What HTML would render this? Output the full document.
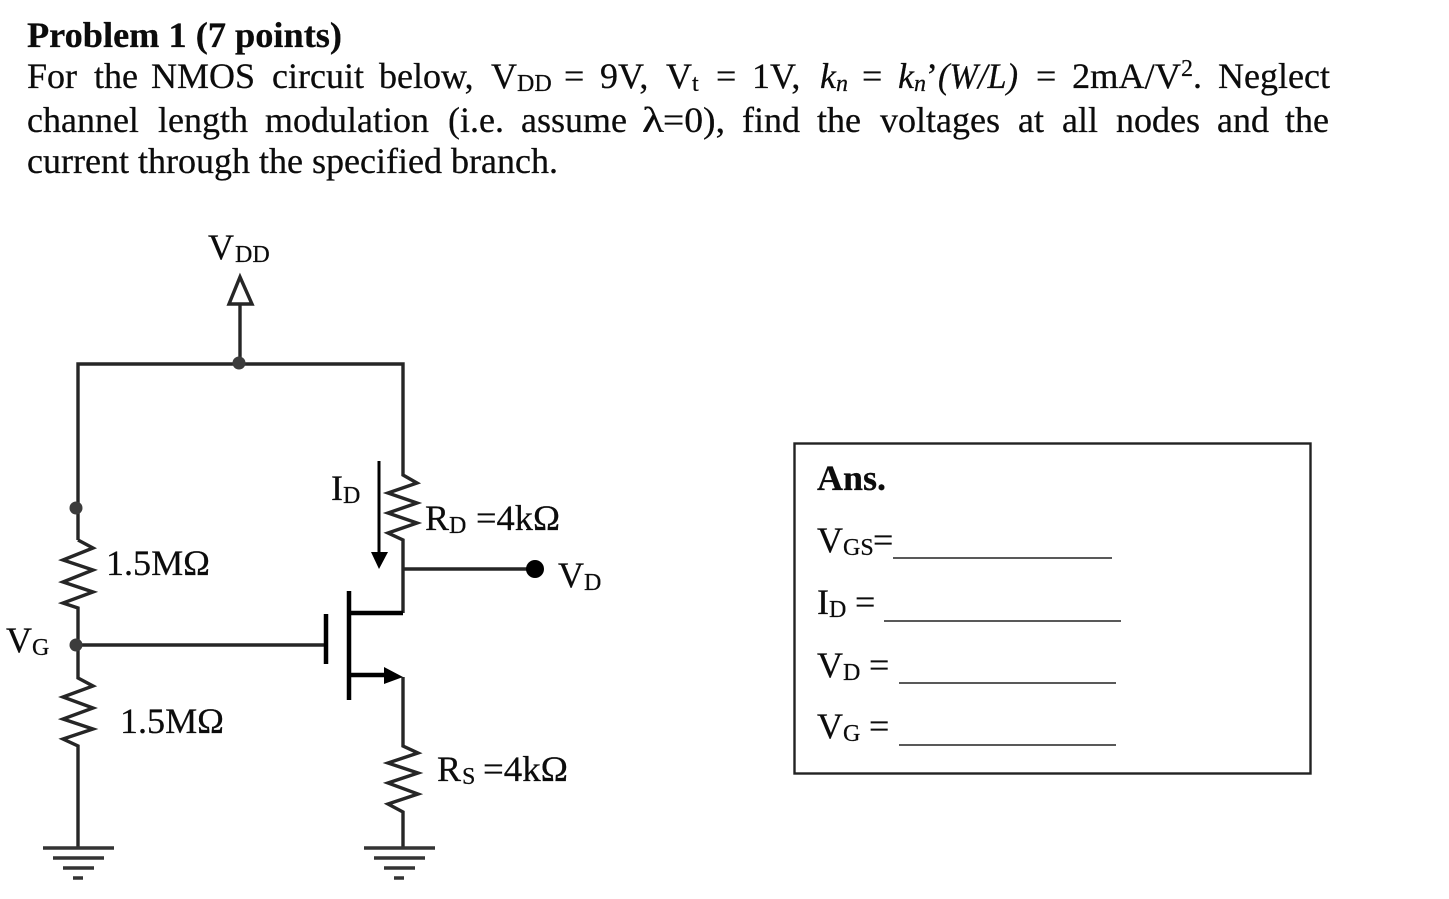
<!DOCTYPE html>
<html><head><meta charset="utf-8">
<style>
html,body{margin:0;padding:0;background:#fff;width:1449px;height:899px;overflow:hidden}
svg{display:block}
text{font-family:"Liberation Serif",serif;font-size:36px;fill:#0c0c0c;stroke:#0c0c0c;stroke-width:.25px}
.b{font-weight:bold}
.i{font-style:italic}
.s{font-size:24px}
.w{fill:none;stroke:#262626;stroke-width:3.4;stroke-linejoin:miter}
.g{stroke:#333;stroke-width:3.4}
.k{stroke:#000;fill:none}
</style></head><body>
<svg width="1449" height="899" viewBox="0 0 1449 899" xmlns="http://www.w3.org/2000/svg">
<text class="b" x="27" y="47" textLength="315" lengthAdjust="spacingAndGlyphs">Problem 1 (7 points)</text>

<text x="27" y="88">For</text><text x="94" y="88">the</text><text x="151" y="88">NMOS</text><text x="272" y="88">circuit</text><text x="379" y="88">below,</text>
<text x="491" y="88">V</text><text class="s" x="517" y="91">DD</text><text x="564" y="88">=</text><text x="600" y="88">9V,</text>
<text x="666" y="88">V</text><text class="s" x="692" y="91">t</text><text x="716" y="88">=</text><text x="752" y="88">1V,</text>
<text class="i" x="820" y="88">k</text><text class="i s" x="836" y="91">n</text><text x="862" y="88">=</text>
<text class="i" x="898" y="88">k</text><text class="i s" x="914" y="91">n</text><text x="926" y="88">’</text><text class="i" x="938" y="88" textLength="80" lengthAdjust="spacingAndGlyphs">(W/L)</text>
<text x="1036" y="88">=</text><text x="1072" y="88" textLength="109" lengthAdjust="spacingAndGlyphs">2mA/V</text><text class="s" x="1181" y="76">2</text><text x="1193" y="88">.</text><text x="1218" y="88" textLength="112" lengthAdjust="spacingAndGlyphs">Neglect</text>

<text x="27" y="132">channel</text><text x="158" y="132">length</text><text x="265" y="132">modulation</text><text x="448" y="132">(i.e.</text><text x="521" y="132">assume</text>
<text x="642" y="132" textLength="22" lengthAdjust="spacingAndGlyphs">λ</text><text x="663" y="132" textLength="62" lengthAdjust="spacingAndGlyphs">=0),</text><text x="742" y="132">find</text><text x="817" y="132">the</text><text x="880" y="132">voltages</text><text x="1018" y="132">at</text><text x="1062" y="132">all</text><text x="1116" y="132">nodes</text><text x="1217" y="132">and</text><text x="1285" y="132">the</text>

<text x="27" y="173" textLength="531" lengthAdjust="spacingAndGlyphs">current through the specified branch.</text>

<!-- wires -->
<path class="w" d="M78 540V364H403V475L417 483L388 493L417 503L388 513L417 523L388 533L403 540V613"/>
<path class="w" d="M78 540L93 548L63 560L93 570L63 582L93 592L63 603L78 608V678L93 686L63 697L93 708L63 719L93 729L63 739L78 746V848"/>
<path class="w" d="M403 677V746L418 753L388 763L418 773L388 783L418 794L388 804L403 812V848"/>
<path class="w" d="M78 645H326M403 569H535M240 304V363"/>
<path class="w" d="M240 277L252 304H229Z"/>
<circle cx="239" cy="363" r="6.5" fill="#3c3c3c"/>
<circle cx="76" cy="508" r="6.5" fill="#3c3c3c"/>
<circle cx="76" cy="645" r="6.5" fill="#3c3c3c"/>
<circle cx="535" cy="569" r="9" fill="#000"/>
<!-- grounds -->
<path class="g" d="M43 848H114M53 858H104M63 868H94M73 878H83"/>
<path class="g" d="M364 848H435M374 858H425M384 868H415M394 878H404"/>
<!-- mosfet -->
<path class="k" stroke-width="4.5" d="M326 614V664M349 591V700M349 613H403M349 675H386"/>
<path d="M384 667L403 677L384 684Z" fill="#000"/>
<!-- current arrow -->
<path class="k" stroke-width="3" d="M379 461V555"/>
<path d="M371 552H388L379 569Z" fill="#000"/>

<!-- labels -->
<text x="208" y="259">V</text><text class="s" x="235" y="262">DD</text>
<text x="331" y="500">I</text><text class="s" x="343" y="503">D</text>
<text x="425" y="530">R</text><text class="s" x="449" y="533">D</text><text x="476" y="530" textLength="84" lengthAdjust="spacingAndGlyphs">=4kΩ</text>
<text x="558" y="587">V</text><text class="s" x="584" y="590">D</text>
<text x="106" y="575" textLength="104" lengthAdjust="spacingAndGlyphs">1.5MΩ</text>
<text x="120" y="733" textLength="104" lengthAdjust="spacingAndGlyphs">1.5MΩ</text>
<text x="6" y="652">V</text><text class="s" x="32" y="655">G</text>
<text x="437" y="781">R</text><text class="s" x="462" y="784">S</text><text x="483" y="781" textLength="85" lengthAdjust="spacingAndGlyphs">=4kΩ</text>

<!-- answer box -->
<rect x="794.5" y="443.5" width="516" height="330" fill="none" stroke="#222" stroke-width="2.4"/>
<text class="b" x="817" y="490" textLength="69" lengthAdjust="spacingAndGlyphs">Ans.</text>
<text x="817" y="552">V</text><text class="s" x="843" y="555">GS</text><text x="873" y="552">=</text>
<path d="M893 558H1112M884 621H1121M899 683H1116M899 745H1116" stroke="#222" stroke-width="1.6"/>
<text x="817" y="614">I</text><text class="s" x="829" y="617">D</text><text x="855" y="614">=</text>
<text x="817" y="677">V</text><text class="s" x="843" y="680">D</text><text x="869" y="677">=</text>
<text x="817" y="738">V</text><text class="s" x="843" y="741">G</text><text x="869" y="738">=</text>
</svg>
</body></html>
